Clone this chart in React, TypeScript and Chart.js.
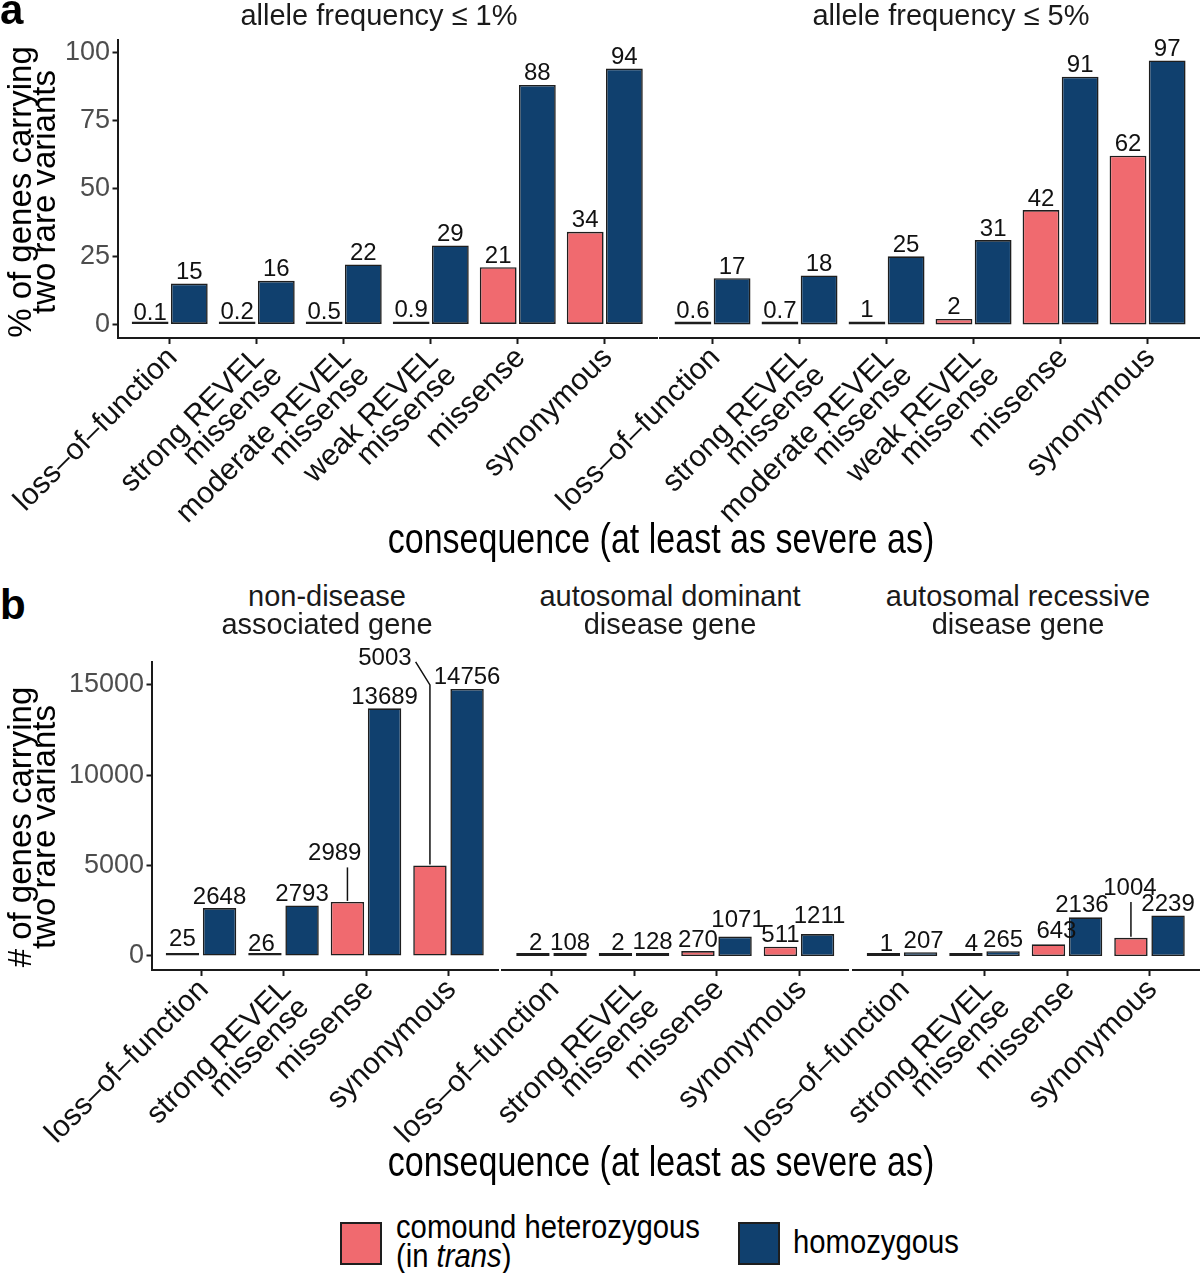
import React, { useEffect, useRef } from "react";
import { Chart, registerables } from "chart.js";

Chart.register(...registerables);

// ---------------- data ----------------
const categoriesA = [
  "loss–of–function",
  "strong REVEL\nmissense",
  "moderate REVEL\nmissense",
  "weak REVEL\nmissense",
  "missense",
  "synonymous",
];
const categoriesB = ["loss–of–function", "strong REVEL\nmissense", "missense", "synonymous"];

const facetTitlesA = ["allele frequency ≤ 1%", "allele frequency ≤ 5%"];
const facetTitlesB = [
  ["non-disease", "associated gene"],
  ["autosomal dominant", "disease gene"],
  ["autosomal recessive", "disease gene"],
];

const af1CompoundHet = [0.1, 0.2, 0.5, 0.9, 21, 34];
const af1Homozygous = [15, 16, 22, 29, 88, 94];
const af5CompoundHet = [0.6, 0.7, 1, 2, 42, 62];
const af5Homozygous = [17, 18, 25, 31, 91, 97];

const nonDiseaseCompoundHet = [25, 26, 2989, 5003];
const nonDiseaseHomozygous = [2648, 2793, 13689, 14756];
const adCompoundHet = [2, 2, 270, 511];
const adHomozygous = [108, 128, 1071, 1211];
const arCompoundHet = [1, 4, 643, 1004];
const arHomozygous = [207, 265, 2136, 2239];

const yTicksA = [0, 25, 50, 75, 100];
const yTicksB = [0, 5000, 10000, 15000];
const seriesNames = ["comound heterozygous (in trans)", "homozygous"];

// ---------------- styles ----------------
const FONT = "'Liberation Sans', Arial, Helvetica, sans-serif";
const RED = "#F06A6F";
const BLUE = "#10406E";
const EDGE = "#1E1E1E";
const AXIS = "#1A1A1A";

type Nudge = { dx?: number; dy?: number; leader?: boolean };
type Box = { l: number; r: number; t: number; b: number };

// label nudges (ggrepel-like displacements), in px
const nudgesB1: Record<string, Nudge> = {
  "0:0": { dy: 5 },
  "0:1": { dx: -3.5 },
  "0:2": { dx: -12.7, dy: 37, leader: true },
  "0:3": { dx: -45, dy: 196, leader: true },
};
const nudgesB2: Record<string, Nudge> = {
  "0:0": { dx: 2.8, dy: 1.5 },
  "0:1": { dx: 2.6, dy: 1.5 },
  "1:2": { dx: 3, dy: 5.4 },
  "1:3": { dx: 2, dy: 6.2 },
};
const nudgesB3: Record<string, Nudge> = {
  "0:0": { dx: 3 },
  "1:0": { dx: 3 },
  "0:1": { dx: 5.5 },
  "0:2": { dx: 8, dy: 1.6 },
  "1:2": { dx: -3.6, dy: 1 },
  "0:3": { dx: -1, dy: 38.3, leader: true },
};

type FacetProps = {
  cats: string[];
  compHet: number[];
  hom: number[];
  area: Box;
  canvas: Box;
  yMin: number;
  yMax: number;
  yTicks: number[];
  showY: boolean;
  rot: number;
  xFont: number;
  xPad: number;
  xLabelOffset: number;
  barPct: number;
  nudges: Record<string, Nudge>;
};

function Facet(p: FacetProps) {
  const ref = useRef<HTMLCanvasElement>(null);
  const cw = p.canvas.r - p.canvas.l;
  const ch = p.canvas.b - p.canvas.t;
  useEffect(() => {
    const yW = p.showY ? p.area.l - p.canvas.l : 0;
    const padding = {
      left: p.showY ? 0 : p.area.l - p.canvas.l,
      right: p.canvas.r - p.area.r,
      top: p.area.t - p.canvas.t,
      bottom: 0,
    };
    const xH = p.canvas.b - p.area.b;
    const labels = [p.compHet.map((v) => String(v)), p.hom.map((v) => String(v))];
    const GAP = 4.5;
    const labelPlugin = {
      id: "barLabels",
      afterDatasetsDraw(chart: any) {
        const ctx = chart.ctx as CanvasRenderingContext2D;
        const yScale = chart.scales.y;
        ctx.save();
        ctx.font = `24px ${FONT}`;
        ctx.fillStyle = "#111";
        ctx.strokeStyle = "#111";
        ctx.lineWidth = 1.5;
        ctx.textAlign = "center";
        ctx.textBaseline = "alphabetic";
        chart.data.datasets.forEach((ds: any, di: number) => {
          const meta = chart.getDatasetMeta(di);
          meta.data.forEach((el: any, i: number) => {
            const v = ds.data[i].y;
            const n = p.nudges[`${di}:${i}`] || {};
            const text = labels[di][i];
            const topY = yScale.getPixelForValue(v);
            const x = el.x + (n.dx || 0);
            const base = topY - GAP - (n.dy || 0);
            ctx.fillText(text, x, base);
            if (n.leader) {
              const w = ctx.measureText(text).width;
              const bx = el.x;
              ctx.beginPath();
              if (Math.abs(bx - x) < w / 2) {
                ctx.moveTo(bx, base + 7);
                ctx.lineTo(bx, topY - 1);
              } else {
                ctx.moveTo(x + w / 2 + 4, base - 3);
                ctx.lineTo(bx, base + 20);
                ctx.lineTo(bx, topY - 1);
              }
              ctx.stroke();
            }
          });
        });
        ctx.restore();
      },
    };
    const mk = (vals: number[], color: string, name: string) => ({
      label: name,
      data: vals.map((v, i) => ({ x: i, y: v })),
      backgroundColor: color,
      borderColor: EDGE,
      borderWidth: 1.6,
      borderSkipped: false as const,
      minBarLength: 3,
      categoryPercentage: 0.9,
      barPercentage: p.barPct,
    });
    const n = p.cats.length;
    const chart = new Chart(ref.current as HTMLCanvasElement, {
      type: "bar",
      data: {
        datasets: [mk(p.compHet, RED, seriesNames[0]), mk(p.hom, BLUE, seriesNames[1])] as any,
      },
      options: {
        responsive: false,
        animation: false,
        devicePixelRatio: 1,
        layout: { padding },
        plugins: { legend: { display: false }, tooltip: { enabled: false } },
        scales: {
          x: {
            type: "linear",
            min: -0.6,
            max: n - 0.4,
            offset: false,
            grid: {
              display: true,
              offset: false,
              drawOnChartArea: false,
              drawTicks: true,
              tickLength: 6,
              tickWidth: 2,
              tickColor: AXIS,
            },
            border: { display: true, width: 2, color: AXIS },
            ticks: {
              autoSkip: false,
              minRotation: p.rot,
              maxRotation: p.rot,
              padding: p.xPad,
              labelOffset: p.xLabelOffset,
              color: "#111",
              font: { family: FONT, size: p.xFont, lineHeight: 0.85 },
              callback: (v: any) => {
                const s = p.cats[Math.round(Number(v))];
                return s ? s.split("\n") : "";
              },
            },
            afterBuildTicks: (s: any) => {
              s.ticks = p.cats.map((_, i) => ({ value: i }));
            },
            afterFit: (s: any) => {
              s.height = xH;
              s.paddingLeft = 0;
              s.paddingRight = 0;
            },
          } as any,
          y: {
            type: "linear",
            display: p.showY,
            min: p.yMin,
            max: p.yMax,
            grid: {
              display: true,
              drawOnChartArea: false,
              drawTicks: true,
              tickLength: 5,
              tickWidth: 2,
              tickColor: AXIS,
            },
            border: { display: true, width: 2, color: AXIS },
            ticks: {
              padding: 2.5,
              color: "#4D4D4D",
              font: { family: FONT, size: 27 },
              callback: (v: any) => String(v),
            },
            afterBuildTicks: (s: any) => {
              s.ticks = p.yTicks.map((v) => ({ value: v }));
            },
            afterFit: (s: any) => {
              s.width = yW;
              s.paddingTop = 0;
              s.paddingBottom = 0;
            },
          } as any,
        },
      },
      plugins: [labelPlugin as any],
    });
    return () => chart.destroy();
  }, []);
  return (
    <canvas
      ref={ref}
      width={cw}
      height={ch}
      style={{ position: "absolute", left: p.canvas.l, top: p.canvas.t, width: cw, height: ch }}
    />
  );
}

function Txt(props: {
  x: number;
  base: number;
  size: number;
  align?: "left" | "center";
  sx?: number;
  sy?: number;
  bold?: boolean;
  color?: string;
  children: React.ReactNode;
}) {
  const { x, base, size, align = "left", sx = 1, sy = 1, bold, color = "#000", children } = props;
  const top = base - 0.8465 * size;
  const tx = align === "center" ? "translateX(-50%) " : "";
  return (
    <div
      style={{
        position: "absolute",
        left: x,
        top,
        fontSize: size,
        lineHeight: `${size}px`,
        whiteSpace: "nowrap",
        fontWeight: bold ? 700 : 400,
        color,
        transform: `${tx}scale(${sx}, ${sy})`,
        transformOrigin: align === "center" ? "50% 84.65%" : "0 84.65%",
      }}
    >
      {children}
    </div>
  );
}

function YTitle({ cy, lines }: { cy: number; lines: string[] }) {
  // two rotated lines; baselines at x ≈ 33 and 57
  const W = 420;
  const H = 48;
  return (
    <div
      style={{
        position: "absolute",
        left: 32 - W / 2,
        top: cy - H / 2,
        width: W,
        height: H,
        transform: "rotate(-90deg)",
        fontSize: 33,
        lineHeight: "24px",
        textAlign: "center",
        whiteSpace: "nowrap",
        color: "#000",
      }}
    >
      {lines[0]}
      <br />
      {lines[1]}
    </div>
  );
}

export default function App() {
  const areaA1: Box = { l: 117.5, r: 657, t: 40, b: 338 };
  const areaA2: Box = { l: 660.3, r: 1199.8, t: 40, b: 338 };
  const areaB1: Box = { l: 151.5, r: 498, t: 662, b: 970 };
  const areaB2: Box = { l: 502, r: 848.5, t: 662, b: 970 };
  const areaB3: Box = { l: 852.5, r: 1199, t: 662, b: 970 };
  const commonA = {
    cats: categoriesA,
    yMin: -5,
    yMax: 104.5,
    yTicks: yTicksA,
    rot: 45,
    xFont: 30,
    xPad: 0,
    xLabelOffset: 3,
    barPct: 0.94,
    nudges: {},
  };
  const commonB = {
    cats: categoriesB,
    yMin: -774,
    yMax: 16248,
    yTicks: yTicksB,
    rot: 45,
    xFont: 30,
    xPad: 0,
    xLabelOffset: 3,
    barPct: 0.9,
  };
  return (
    <div
      style={{
        position: "absolute",
        left: 0,
        top: 0,
        width: 1200,
        height: 1273,
        background: "#fff",
        overflow: "hidden",
        fontFamily: FONT,
      }}
    >
      {/* panel a */}
      <Facet
        {...commonA}
        compHet={af1CompoundHet}
        hom={af1Homozygous}
        area={areaA1}
        canvas={{ l: 0, r: 680, t: 10, b: 530 }}
        showY={true}
      />
      <Facet
        {...commonA}
        compHet={af5CompoundHet}
        hom={af5Homozygous}
        area={areaA2}
        canvas={{ l: 300, r: 1200, t: 10, b: 530 }}
        showY={false}
      />
      {/* panel b */}
      <Facet
        {...commonB}
        compHet={nonDiseaseCompoundHet}
        hom={nonDiseaseHomozygous}
        area={areaB1}
        canvas={{ l: 0, r: 525, t: 630, b: 1150 }}
        showY={true}
        nudges={nudgesB1}
      />
      <Facet
        {...commonB}
        compHet={adCompoundHet}
        hom={adHomozygous}
        area={areaB2}
        canvas={{ l: 290, r: 870, t: 630, b: 1150 }}
        showY={false}
        nudges={nudgesB2}
      />
      <Facet
        {...commonB}
        compHet={arCompoundHet}
        hom={arHomozygous}
        area={areaB3}
        canvas={{ l: 640, r: 1200, t: 630, b: 1150 }}
        showY={false}
        nudges={nudgesB3}
      />

      {/* texts panel a */}
      <Txt x={0} base={25} size={42} bold>
        a
      </Txt>
      <Txt x={379} base={26} size={29} align="center" color="#1A1A1A">
        {facetTitlesA[0]}
      </Txt>
      <Txt x={951} base={26} size={29} align="center" color="#1A1A1A">
        {facetTitlesA[1]}
      </Txt>
      <YTitle cy={192} lines={["% of genes carrying", "two rare variants"]} />
      <Txt x={661} base={554} size={42} sx={0.81} align="center">
        consequence (at least as severe as)
      </Txt>

      {/* texts panel b */}
      <Txt x={0} base={620} size={42} bold>
        b
      </Txt>
      {facetTitlesB.map((t, i) => {
        const cx = [327, 670, 1018][i];
        return (
          <React.Fragment key={i}>
            <Txt x={cx} base={606.7} size={29} align="center" color="#1A1A1A">
              {t[0]}
            </Txt>
            <Txt x={cx} base={635} size={29} align="center" color="#1A1A1A">
              {t[1]}
            </Txt>
          </React.Fragment>
        );
      })}
      <YTitle cy={826.5} lines={["# of genes carrying", "two rare variants"]} />
      <Txt x={661} base={1177} size={42} sx={0.81} align="center">
        consequence (at least as severe as)
      </Txt>

      {/* legend */}
      <div
        style={{
          position: "absolute",
          left: 340,
          top: 1222,
          width: 42,
          height: 43,
          background: RED,
          border: `2px solid ${EDGE}`,
          boxSizing: "border-box",
        }}
      />
      <Txt x={396} base={1238} size={34} sx={0.86}>
        comound heterozygous
      </Txt>
      <Txt x={396} base={1267} size={34} sx={0.86}>
        (in <i>trans</i>)
      </Txt>
      <div
        style={{
          position: "absolute",
          left: 738,
          top: 1222,
          width: 42,
          height: 43,
          background: BLUE,
          border: `2px solid ${EDGE}`,
          boxSizing: "border-box",
        }}
      />
      <Txt x={793} base={1253} size={34} sx={0.86}>
        homozygous
      </Txt>
    </div>
  );
}
